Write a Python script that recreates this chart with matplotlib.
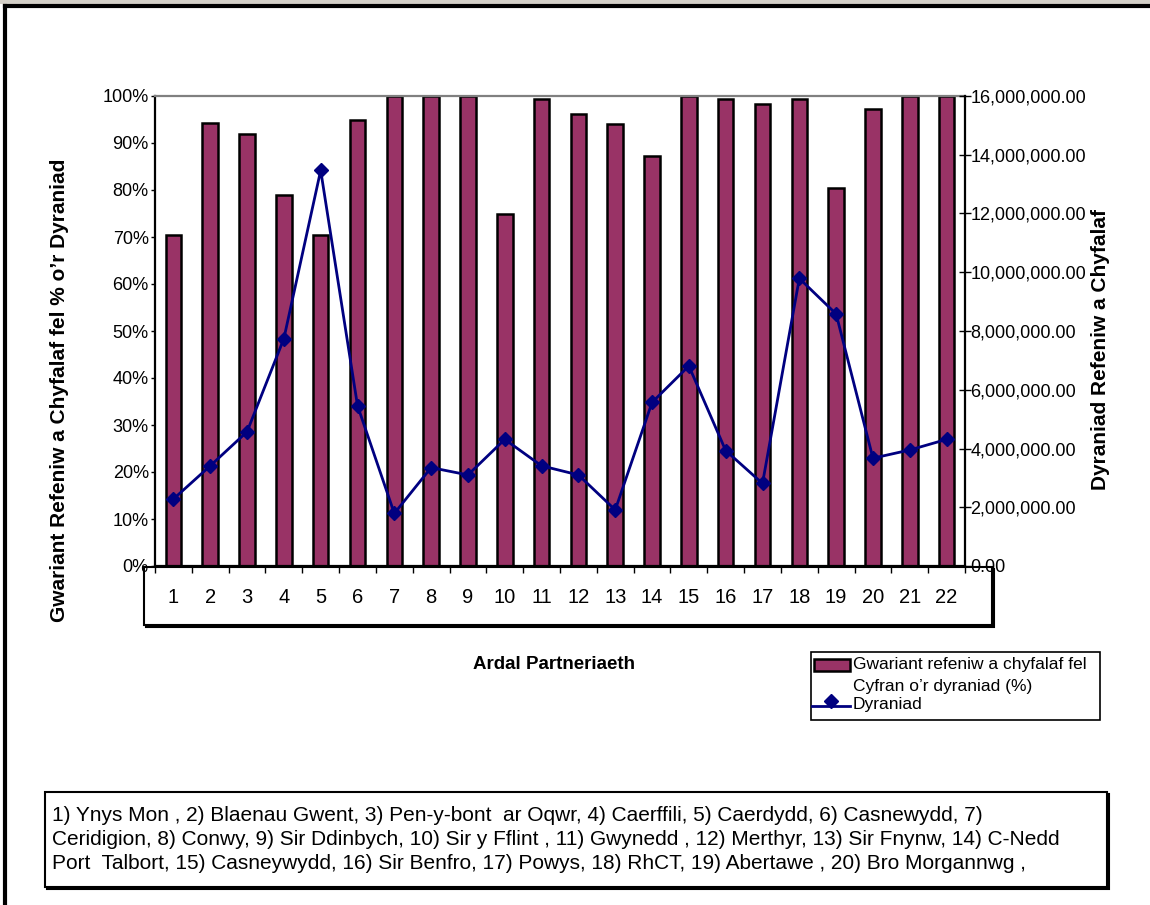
import matplotlib
matplotlib.use("Agg")
import matplotlib.pyplot as plt
from matplotlib.patches import Rectangle
from matplotlib.lines import Line2D
from matplotlib.ticker import FuncFormatter, FixedLocator

# ---------------- data ----------------
categories = [str(i) for i in range(1, 23)]
pct_spent = [70.4, 94.3, 91.9, 79.0, 70.4, 94.8, 100, 100, 100, 74.8, 99.4,
             96.2, 94.1, 87.3, 100, 99.4, 98.3, 99.4, 80.5, 97.2, 100, 100]
allocation = [2.28e6, 3.41e6, 4.57e6, 7.74e6, 13.47e6, 5.46e6, 1.79e6, 3.35e6,
              3.10e6, 4.31e6, 3.41e6, 3.10e6, 1.91e6, 5.57e6, 6.81e6, 3.93e6,
              2.81e6, 9.79e6, 8.58e6, 3.67e6, 3.95e6, 4.31e6]
left_ticks = list(range(0, 101, 10))
right_ticks = [i * 2e6 for i in range(9)]

bar_label = "Gwariant refeniw a chyfalaf fel"
bar_label2 = "Cyfran o\u2019r dyraniad (%)"
line_label = "Dyraniad"
xlabel = "Ardal Partneriaeth"
ylabel_left = "Gwariant Refeniw a Chyfalaf fel % o\u2019r Dyraniad"
ylabel_right = "Dyraniad Refeniw a Chyfalaf"
note_lines = [
    "1) Ynys Mon , 2) Blaenau Gwent, 3) Pen-y-bont  ar Oqwr, 4) Caerffili, 5) Caerdydd, 6) Casnewydd, 7)",
    "Ceridigion, 8) Conwy, 9) Sir Ddinbych, 10) Sir y Fflint , 11) Gwynedd , 12) Merthyr, 13) Sir Fnynw, 14) C-Nedd",
    "Port  Talbort, 15) Casneywydd, 16) Sir Benfro, 17) Powys, 18) RhCT, 19) Abertawe , 20) Bro Morgannwg ,",
]

BAR_COLOR = "#993366"
LINE_COLOR = "#000080"
FONT = ["Liberation Sans", "DejaVu Sans"]

plt.rcParams["font.family"] = FONT

W, H = 1150, 905
fig = plt.figure(figsize=(W / 100, H / 100), dpi=100)


def fx(px):
    return px / W


def fy(py):
    return 1 - py / H


# outer frame
fig.patches.append(Rectangle((0, fy(4)), 1, 4 / H, transform=fig.transFigure,
                             facecolor="#d4d0c8", edgecolor="none", zorder=-5))
fig.add_artist(Line2D([fx(5), 1], [fy(6), fy(6)], color="black", lw=3,
                      transform=fig.transFigure))
fig.add_artist(Line2D([fx(5), fx(5)], [fy(6), 0], color="black", lw=3,
                      transform=fig.transFigure))


def box(x0, y0, x1, y1, shadow=2, lw=1.5):
    if shadow:
        fig.patches.append(Rectangle((fx(x0 + shadow), fy(y1 + shadow)),
                                     (x1 - x0) / W, (y1 - y0) / H,
                                     transform=fig.transFigure,
                                     facecolor="black", edgecolor="black",
                                     lw=lw, zorder=-3))
    fig.patches.append(Rectangle((fx(x0), fy(y1)), (x1 - x0) / W, (y1 - y0) / H,
                                 transform=fig.transFigure, facecolor="white",
                                 edgecolor="black", lw=lw, zorder=-2))


# category label box (behind the axes so the tick labels show)
box(144, 567, 992, 625, shadow=2)

x = list(range(1, 23))
ax = fig.add_axes([fx(155), fy(566), (965 - 155) / W, (566 - 96) / H])
ax.patch.set_visible(False)
ax.bar(x, pct_spent, width=0.42, color=BAR_COLOR, edgecolor="black",
       linewidth=1.8, zorder=2)
ax.set_xlim(0.5, 22.5)
ax.set_ylim(0, 100)
ax.set_yticks(left_ticks)
ax.set_yticklabels([f"{v}%" for v in left_ticks])
ax.set_xticks(x)
ax.set_xticklabels(categories, fontsize=14.5)
ax.xaxis.set_minor_locator(FixedLocator([i + 0.5 for i in range(0, 23)]))
ax.tick_params(axis="x", which="major", length=0, pad=16)
ax.tick_params(axis="x", which="minor", length=5, width=1, direction="out")
ax.tick_params(axis="y", which="major", length=3, width=1, direction="out",
               labelsize=13, pad=1.5)
for s in ("left", "bottom"):
    ax.spines[s].set_color("black")
    ax.spines[s].set_linewidth(1.6)
ax.spines["top"].set_color("#808080")
ax.spines["top"].set_linewidth(1.6)
ax.spines["right"].set_visible(False)

ax2 = ax.twinx()
ax2.patch.set_visible(False)
ax2.plot(x, allocation, color=LINE_COLOR, lw=2, marker="D", markersize=7,
         zorder=3)
ax2.set_ylim(0, 16e6)
ax2.set_yticks(right_ticks)
ax2.yaxis.set_major_formatter(FuncFormatter(lambda v, p: f"{v:,.2f}"))
ax2.tick_params(axis="y", length=8, width=1, direction="inout", labelsize=13,
                pad=0)
ax2.spines["right"].set_color("black")
ax2.spines["right"].set_linewidth(1.6)
for s in ("left", "top", "bottom"):
    ax2.spines[s].set_visible(False)

# axis titles
fig.text(fx(60), fy(390), ylabel_left, rotation=90, ha="center", va="center",
         fontsize=15, fontweight="bold")
fig.text(fx(1101), fy(350), ylabel_right, rotation=90, ha="center",
         va="center", fontsize=15, fontweight="bold")
fig.text(fx(554), fy(664), xlabel, ha="center", va="center", fontsize=13.5,
         fontweight="bold")

# legend
box(811, 652, 1100, 720, shadow=0, lw=1.2)
fig.patches.append(Rectangle((fx(814), fy(671)), 36 / W, 12 / H,
                             transform=fig.transFigure, facecolor=BAR_COLOR,
                             edgecolor="black", lw=1.8, zorder=1))
fig.add_artist(Line2D([fx(812), fx(850)], [fy(706), fy(706)], color=LINE_COLOR,
                      lw=2, transform=fig.transFigure, zorder=1))
fig.add_artist(Line2D([fx(831)], [fy(701)], color=LINE_COLOR, marker="D",
                      markersize=7, transform=fig.transFigure, zorder=1))
fig.text(fx(853), fy(664), bar_label, ha="left", va="center", fontsize=12.5)
fig.text(fx(853), fy(686), bar_label2, ha="left", va="center", fontsize=12.5)
fig.text(fx(853), fy(704), line_label, ha="left", va="center", fontsize=12.5)

# note box
box(45, 792, 1107, 887, shadow=2)
for i, t in enumerate(note_lines):
    fig.text(fx(52), fy(815 + 24 * i), t, ha="left", va="center", fontsize=15)

fig.savefig("out.png", dpi=100)
